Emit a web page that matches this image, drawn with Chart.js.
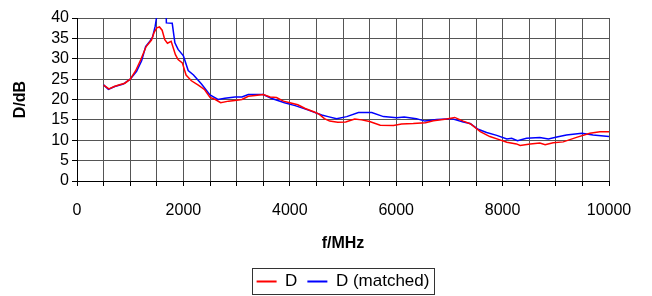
<!DOCTYPE html>
<html>
<head>
<meta charset="utf-8">
<script src="https://cdn.jsdelivr.net/npm/chart.js@4/dist/chart.umd.min.js"></script>
<style>
html,body{margin:0;padding:0;background:#fff;}
#wrap{position:relative;width:652px;height:296px;}
</style>
</head>
<body>
<div id="wrap"><canvas id="c" width="652" height="296"></canvas></div>
<script>
// Frequencies (MHz) and directivity (dB)
const freqD = [500,600,700,800,900,1000,1100,1200,1300,1400,1450,1500,1550,1600,1650,1700,1770,1850,1900,1980,2050,2150,2280,2400,2500,2600,2700,2850,3000,3100,3220,3350,3500,3630,3750,3880,4000,4150,4290,4450,4550,4650,4750,4900,5050,5220,5350,5500,5700,5950,6100,6320,6550,6700,6950,7100,7260,7400,7580,7760,7950,8080,8260,8330,8520,8700,8800,8950,9140,9390,9640,9830,10000];
const valD = [23.5,22.6,23.2,23.6,24.0,25.0,27.0,29.8,33.0,34.6,36.5,37.6,37.8,37.0,34.7,33.8,34.3,31.0,29.8,29.0,26.0,24.6,23.5,22.4,20.5,20.0,19.2,19.6,19.8,20.0,20.8,21.0,21.2,20.6,20.5,19.6,19.2,18.7,17.8,17.0,16.4,15.3,14.7,14.4,14.5,15.2,15.0,14.6,13.7,13.6,14.0,14.1,14.3,14.8,15.2,15.6,14.7,14.0,12.1,10.9,10.1,9.5,9.1,8.7,9.1,9.3,8.9,9.4,9.6,10.7,11.7,12.1,12.1];

const freqM = [500,590,710,870,1000,1120,1215,1290,1370,1420,1470,1500,1560,1620,1670,1680,1790,1840,1900,2000,2090,2190,2340,2500,2650,2780,2970,3100,3220,3500,3650,3900,4100,4350,4600,4720,4880,5070,5290,5540,5760,6010,6150,6380,6540,6760,7040,7260,7390,7540,7700,7890,8080,8170,8280,8450,8700,8860,9020,9200,9490,9700,10000];
const valM = [23.6,22.5,23.2,23.8,25.0,26.9,29.5,33.0,34.3,35.3,38.0,40.5,44.0,44.0,45.0,38.8,38.7,33.9,32.3,30.7,27.1,26.0,23.8,21.1,20.0,20.3,20.6,20.6,21.2,21.2,20.3,19.2,18.5,17.4,16.2,15.8,15.3,15.8,16.8,16.8,15.8,15.5,15.7,15.3,14.7,15.1,15.3,14.5,14.1,12.7,11.9,11.2,10.3,10.5,9.9,10.5,10.7,10.3,10.8,11.3,11.7,11.3,10.9];

const seriesNames = ['D', 'D (matched)'];
const seriesColors = ['#ff0000', '#0000ff'];
const xLabelTicks = [0,2000,4000,6000,8000,10000];

const FONT = "'Liberation Sans', Arial, sans-serif";

function pts(xs, ys){ return xs.map((x,i)=>({x:x, y:ys[i]})); }

const legendBorder = {
  id: 'legendBorder',
  afterLayout(chart){
    const lg = chart.legend;
    if (lg){
      lg.top += 4; lg.bottom += 4;
      const ca = chart.chartArea;
      const shift = (ca.left + ca.right) / 2 - (lg.left + lg.right) / 2;
      lg.left += shift; lg.right += shift;
    }
  },
  afterDraw(chart){
    const lg = chart.legend;
    if (!lg || !lg.legendHitBoxes || !lg.legendHitBoxes.length) return;
    const hb = lg.legendHitBoxes;
    let l = Infinity, r = -Infinity, t = Infinity, b = -Infinity;
    hb.forEach(h => { l = Math.min(l, h.left); r = Math.max(r, h.left + h.width); t = Math.min(t, h.top); b = Math.max(b, h.top + h.height); });
    const ctx = chart.ctx;
    ctx.save();
    ctx.strokeStyle = '#333';
    ctx.lineWidth = 1;
    ctx.strokeRect(Math.round(l - 5) + 0.5, Math.round(t - 5) + 0.5, Math.round(r - l + 9), Math.round(b - t + 9));
    ctx.restore();
  }
};

new Chart(document.getElementById('c'), {
  type: 'line',
  data: {
    datasets: [
      { label: seriesNames[0], data: pts(freqD, valD), borderColor: seriesColors[0], backgroundColor: seriesColors[0], borderWidth: 1.5, pointRadius: 0, tension: 0, fill: false },
      { label: seriesNames[1], data: pts(freqM, valM), borderColor: seriesColors[1], backgroundColor: seriesColors[1], borderWidth: 1.5, pointRadius: 0, tension: 0, fill: false }
    ]
  },
  options: {
    responsive: false,
    animation: false,
    devicePixelRatio: 1,
    layout: { padding: { left: 0, right: 43, top: 18, bottom: 0 } },
    plugins: {
      tooltip: { enabled: false },
      legend: {
        position: 'bottom',
        labels: {
          font: { family: FONT, size: 17 },
          color: '#000',
          boxWidth: 20,
          boxHeight: 2,
          padding: 10,
          generateLabels(chart){
            return chart.data.datasets.map((ds, i) => ({
              text: ds.label, fillStyle: ds.borderColor, strokeStyle: ds.borderColor,
              lineWidth: 0, hidden: false, datasetIndex: i, fontColor: '#000'
            }));
          }
        }
      }
    },
    scales: {
      x: {
        type: 'linear',
        min: 0, max: 10000,
        afterFit(s){ s.height = 78; },
        ticks: {
          stepSize: 500, autoSkip: false, maxRotation: 0,
          font: { family: FONT, size: 16 }, color: '#000', padding: 15,
          callback(v){ return xLabelTicks.includes(v) ? String(v) : ''; }
        },
        grid: { color: '#555', lineWidth: 1, tickLength: 5, tickColor: '#000' },
        border: { color: '#000', width: 1 },
        title: { display: true, text: 'f/MHz', font: { family: FONT, size: 16, weight: 'bold' }, color: '#000', padding: { top: 0, bottom: 6 } }
      },
      y: {
        min: 0, max: 40,
        afterFit(s){ s.width = 77; },
        ticks: { stepSize: 5, autoSkip: false, font: { family: FONT, size: 16 }, color: '#000', padding: 3 },
        grid: { color: '#555', lineWidth: 1, tickLength: 5, tickColor: '#000' },
        border: { color: '#000', width: 1 },
        title: { display: true, text: 'D/dB', font: { family: FONT, size: 16, weight: 'bold' }, color: '#000', padding: { top: 11, bottom: 0 } }
      }
    }
  },
  plugins: [legendBorder]
});
</script>
</body>
</html>
